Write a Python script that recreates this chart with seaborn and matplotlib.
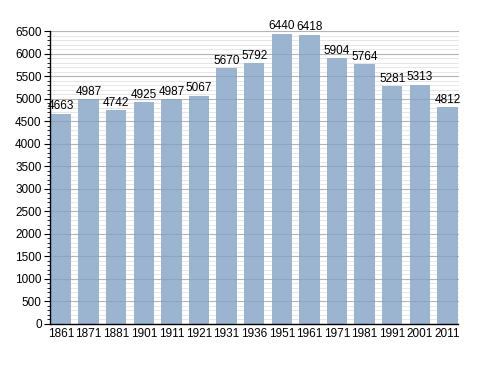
import matplotlib
matplotlib.use("Agg")
import matplotlib.pyplot as plt
import seaborn as sns
import pandas as pd
from matplotlib.ticker import MultipleLocator

years = ["1861", "1871", "1881", "1901", "1911", "1921", "1931", "1936",
         "1951", "1961", "1971", "1981", "1991", "2001", "2011"]
population = [4663, 4987, 4742, 4925, 4987, 5067, 5670, 5792,
              6440, 6418, 5904, 5764, 5281, 5313, 4812]

df = pd.DataFrame({"year": years, "pop": population})

sns.set_style("white")
plt.rcParams['font.family'] = ['Liberation Sans', 'DejaVu Sans']
plt.rcParams['text.color'] = 'black'
plt.rcParams['xtick.color'] = 'black'
plt.rcParams['ytick.color'] = 'black'

fig = plt.figure(figsize=(4.88, 3.73), dpi=100)
ax = fig.add_axes([50/488, 1-324/373, 408.5/488, (324-31)/373])

sns.barplot(data=df, x="year", y="pop", order=years, color="#9bb4d0",
            saturation=1, width=0.74, ax=ax, zorder=3,
            edgecolor="none", linewidth=0)

ax.set_xlim(-0.4, 14.4)
ax.set_ylim(0, 6500)
ax.yaxis.set_major_locator(MultipleLocator(500))
ax.yaxis.set_minor_locator(MultipleLocator(100))
ax.grid(which="major", axis="y", color="#c4c4c4", linewidth=0.8, zorder=0)
ax.grid(which="minor", axis="y", color="#e6e6e6", linewidth=0.7, zorder=0)
ax.set_axisbelow(True)

# faint overlay of major gridlines across the bars
for yv in range(500, 6501, 500):
    ax.axhline(yv, color="black", alpha=0.08, linewidth=0.8, zorder=4)

for s in ["top", "right"]:
    ax.spines[s].set_visible(False)
for s in ["left", "bottom"]:
    ax.spines[s].set_color("black")
    ax.spines[s].set_linewidth(1.0)
    ax.spines[s].set_zorder(6)

ax.tick_params(axis="y", which="major", length=4, width=0.8, labelsize=8.5,
               left=True, pad=2, labelcolor="black")
ax.tick_params(axis="y", which="minor", length=2, width=0.6, left=True)
ax.tick_params(axis="x", length=0, labelsize=8.5, pad=3, labelcolor="black")
ax.set_xlabel("")
ax.set_ylabel("")

for i, v in enumerate(population):
    ax.text(i, v + 30, str(v), ha="center", va="bottom", fontsize=8.5,
            color="black", zorder=5)

fig.savefig("out.png", dpi=100)
